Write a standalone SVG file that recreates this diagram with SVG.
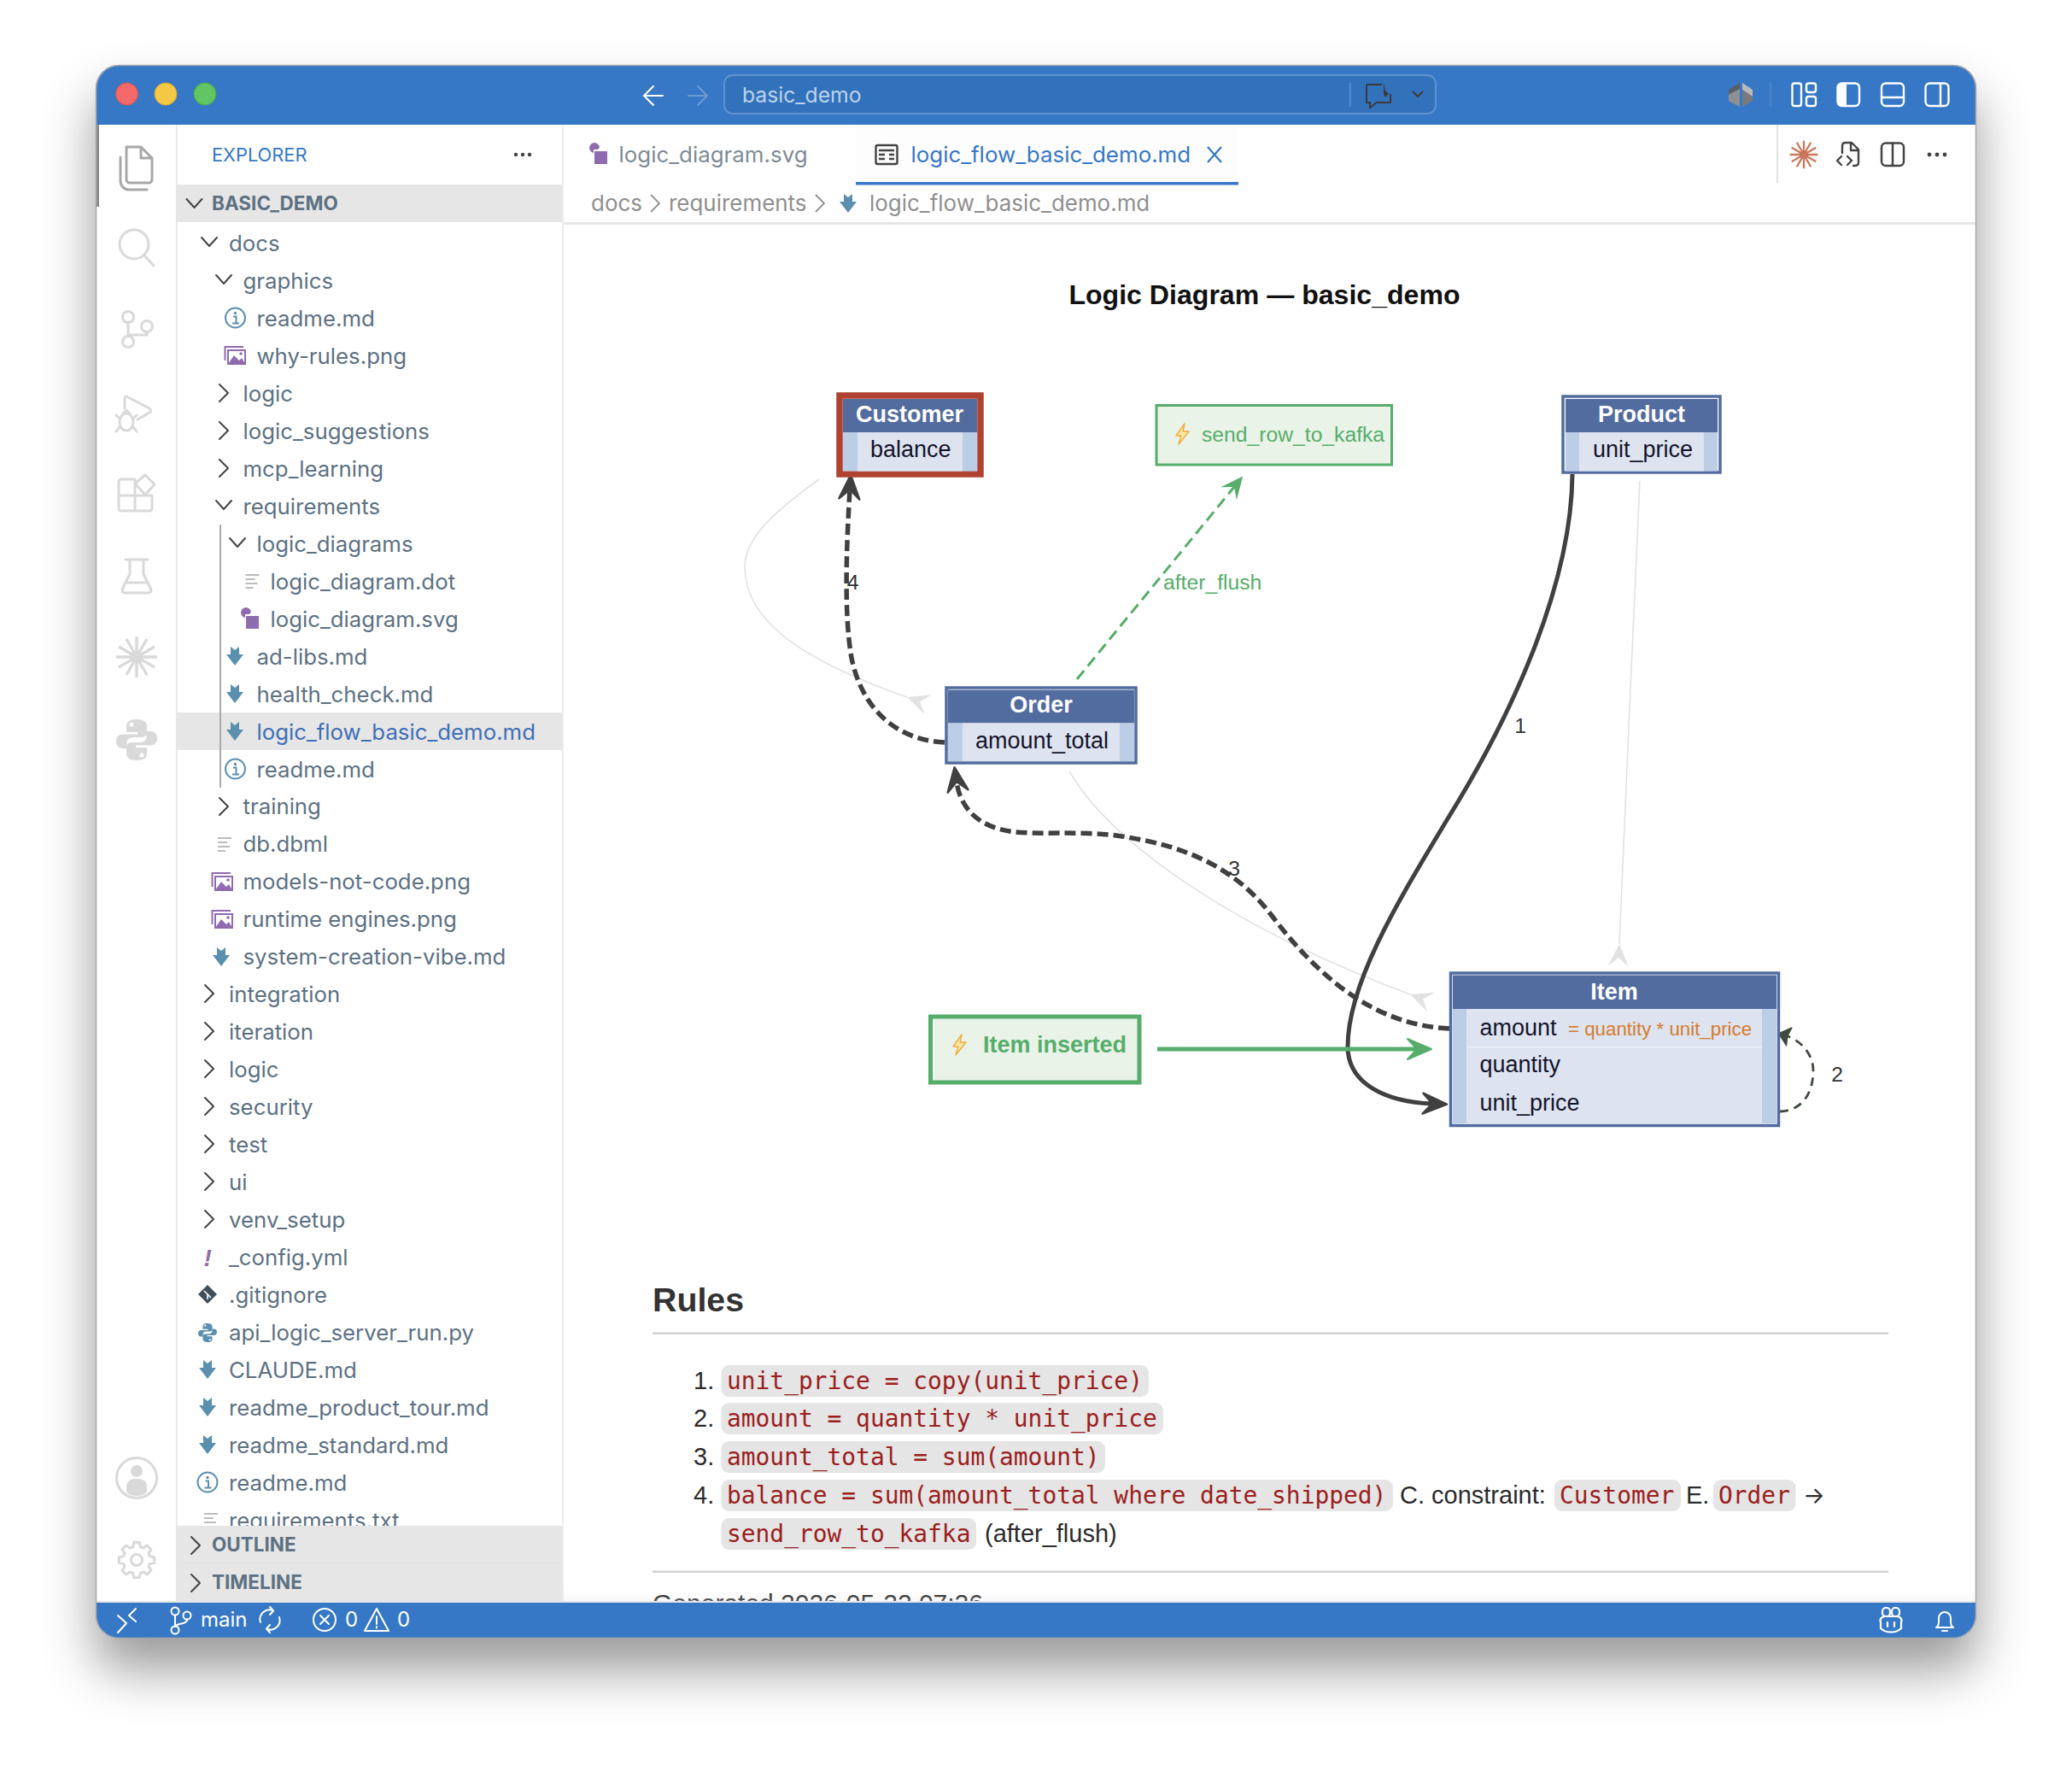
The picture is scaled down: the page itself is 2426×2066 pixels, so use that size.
<svg xmlns="http://www.w3.org/2000/svg" width="2426" height="2066" viewBox="0 0 2426 2066">
<style>
text{font-family:"Liberation Sans",Arial,sans-serif}
.ui{font-family:Inter,"Liberation Sans",sans-serif;font-size:25.8px;fill:#5d7183}
.hd{font-family:Inter,"Liberation Sans",sans-serif;font-size:22.5px;font-weight:700;fill:#5d7183}
.tab{font-family:Inter,"Liberation Sans",sans-serif;font-size:25.9px;fill:#7f8b96}
.crumb{font-family:Inter,"Liberation Sans",sans-serif;font-size:25.95px;fill:#8f8f8f}
.st{font-family:Inter,"Liberation Sans",sans-serif;font-size:24px;fill:#fff}
.ns{fill:none;stroke:#444;stroke-width:2;stroke-linecap:round;stroke-linejoin:round}
.ai{fill:none;stroke:#d9d9d9;stroke-width:3;stroke-linejoin:round;stroke-linecap:round}
.wi{fill:none;stroke:#fff;stroke-width:2.4;stroke-linejoin:round;stroke-linecap:round}
.hdr{fill:#536c9f}.body{fill:#dde3ef}.side{fill:#bccde6}
.box{fill:#fff;stroke:#536c9f;stroke-width:3.5}
.ttl{font-size:27px;font-weight:700;fill:#fff;text-anchor:middle}
.fld{font-size:27px;fill:#14142b}
.lbl{font-size:24.7px;fill:#333}
.grn{fill:#57ad6b}
.li{font-size:29px;fill:#2b2b2b}
.cd{font-family:"DejaVu Sans Mono","Liberation Mono",monospace;font-size:27.9px;fill:#9a2020}
.cb{fill:#e5e5e5}
.hr{fill:#d2d2d2}
.gl{fill:none;stroke:#e2e2e2;stroke-width:1.6}
.dk{fill:none;stroke:#404040}
</style>
<defs>
<filter id="shadow" x="-10%" y="-10%" width="120%" height="120%"><feDropShadow dx="0" dy="36" stdDeviation="30" flood-color="#000" flood-opacity="0.4"/></filter>
<clipPath id="win"><rect x="112" y="76" width="2202" height="1842" rx="27"/></clipPath>
<linearGradient id="fade" x1="0" y1="0" x2="0" y2="1"><stop offset="0" stop-color="#e8e8e8" stop-opacity="0"/><stop offset="1" stop-color="#e8e8e8" stop-opacity="0.3"/></linearGradient>
<marker id="crow" markerUnits="userSpaceOnUse" orient="auto" markerWidth="40" markerHeight="40" refX="0" refY="0" overflow="visible"><path d="M0,0L26,-12L16,0L26,12Z" fill="#e2e2e2"/></marker>
<marker id="veeD" markerUnits="userSpaceOnUse" orient="auto" markerWidth="40" markerHeight="40" refX="0" refY="0" overflow="visible"><path d="M-11,-12L17,0L-11,12L0,0Z" fill="#404040" stroke="#404040" stroke-width="2.5" stroke-linejoin="round"/></marker>
<marker id="veeG" markerUnits="userSpaceOnUse" orient="auto" markerWidth="40" markerHeight="40" refX="0" refY="0" overflow="visible"><path d="M-11,-12L17,0L-11,12L0,0Z" fill="#57ad6b" stroke="#57ad6b" stroke-width="2" stroke-linejoin="round"/></marker>
<marker id="veeT" markerUnits="userSpaceOnUse" orient="auto" markerWidth="40" markerHeight="40" refX="0" refY="0" overflow="visible"><path d="M-10,-12L16,0L-10,12L0,0Z" fill="#57ad6b"/></marker>
<marker id="veeS" markerUnits="userSpaceOnUse" orient="auto" markerWidth="30" markerHeight="30" refX="0" refY="0" overflow="visible"><path d="M-5,-11L8,0L-5,11L-3,0Z" fill="#3f4a3f" stroke="#3f4a3f" stroke-width="1.2" stroke-linejoin="round"/></marker>
<path id="md" d="M-5,-11L0,-7L5,-11V-2H10L0,11L-10,-2H-5Z" fill="#5b8fae"/>
<g id="info"><circle r="11.5" fill="none" stroke="#5b8fae" stroke-width="2"/><circle cy="-5.5" r="1.7" fill="#5b8fae"/><path d="M-2.5,-1.5H1V6M-3.5,6.5H4.5" fill="none" stroke="#5b8fae" stroke-width="2"/></g>
<g id="img"><path d="M-11.5,6V-10H10" fill="none" stroke="#8f6bb0" stroke-width="2"/><rect x="-8" y="-6" width="20" height="16" fill="none" stroke="#8f6bb0" stroke-width="2"/><path d="M-8,10L-1,0L5,6L8,3L12,10Z" fill="#8f6bb0"/><circle cx="7" cy="-2" r="1.8" fill="#8f6bb0"/></g>
<g id="svgi"><rect x="-3" y="-3" width="15" height="15" fill="#8f6bb0"/><path d="M-4,-1A6,6 0 1 1 3,-7.5L1,-5H-4Z" fill="#8f6bb0"/></g>
<path id="lines" d="M-8,-7H8M-8,-2H3M-8,3H6M-8,8H1" fill="none" stroke="#bcbcbc" stroke-width="2.2"/>
<path id="cd" class="ns" d="M-9,-5L0,5L9,-5"/>
<path id="cr" class="ns" d="M-5,-10L5,0L-5,10"/>
<g id="star"><circle r="7"/><path d="M0,-24V24M12,-21L-12,21M21,-12L-21,12M24,0H-24M21,12L-21,-12M12,21L-12,-21" fill="none" stroke-width="3.4"/></g>
<g id="py"><path id="pyh" d="M0,-24C-9,-24 -12,-21 -12,-15V-9H1V-6.500H-15C-21,-6.500 -24,-3 -24,1C-24,7 -21,10 -16,10H-11.500V3C-11.500,-1 -8,-3 -3,-3H6C10,-3 12,-6 12,-9V-16C12,-21 8,-24 0,-24ZM-6,-20.500A2.500,2.500 0 1 0 -6,-15.500A2.500,2.500 0 1 0 -6,-20.500Z" fill-rule="evenodd"/><use href="#pyh" transform="rotate(180)"/></g>
<path id="bolt" d="M3,-12L-7,2H-1L-4,12L8,-3H1Z" fill="#fdeba8" stroke="#f2a93b" stroke-width="1.4" stroke-linejoin="round"/>
</defs>
<rect width="2426" height="2066" fill="#fff"/>
<rect x="112" y="76" width="2202" height="1842" rx="27" fill="#fff" filter="url(#shadow)"/>
<g clip-path="url(#win)">
<g id="editor">
<rect x="659" y="146" width="1655" height="1730" fill="#fff"/>
<rect x="1002" y="146" width="448" height="68" fill="#fdfdfd"/>
<rect x="1002" y="213" width="448" height="3.5" fill="#3678c6"/>
<rect x="659" y="260" width="1655" height="3" fill="#e6e6e6"/>
<rect x="2080" y="146" width="2" height="68" fill="#e2e2e2"/>
<use href="#svgi" x="699" y="180"/>
<text class="tab" x="724.5" y="190">logic_diagram.svg</text>
<g transform="translate(1038,181)"><rect x="-12.5" y="-11" width="25" height="22" rx="2" fill="none" stroke="#444" stroke-width="2.4"/><path d="M-9,-5H9M-9,0H-2M3,0H9M-9,5H-2M3,5H9" stroke="#444" stroke-width="2.4" fill="none"/></g>
<text class="tab" x="1066.5" y="190" style="fill:#3678c6">logic_flow_basic_demo.md</text>
<path d="M1414,172L1430,190M1430,172L1414,190" stroke="#3678c6" stroke-width="2.2" fill="none"/>
<use href="#star" transform="translate(2112,181) scale(0.68)" stroke="#c9785c" fill="#c9785c"/>
<path class="ns" style="stroke-width:2.4" d="M2157,179V171Q2157,167 2161,167H2168L2176,175V190Q2176,194 2172,194H2170M2167,167V176H2176M2156,183L2151,188L2156,193M2163,183L2168,188L2163,193"/>
<rect x="2203" y="167.5" width="26" height="26.5" rx="5" class="ns" style="stroke-width:2.5"/><path d="M2216,168V194" class="ns" style="stroke-width:2.5"/>
<g fill="#444"><circle cx="2259" cy="181" r="2.4"/><circle cx="2268" cy="181" r="2.4"/><circle cx="2277" cy="181" r="2.4"/></g>
<text class="crumb" x="692" y="246.5">docs</text>
<path d="M762,228L772,238L762,248" fill="none" stroke="#8f8f8f" stroke-width="1.8"/>
<text class="crumb" x="783" y="246.5">requirements</text>
<path d="M955,228L965,238L955,248" fill="none" stroke="#8f8f8f" stroke-width="1.8"/>
<use href="#md" x="993" y="238"/>
<text class="crumb" x="1018" y="246.5">logic_flow_basic_demo.md</text>

<text x="1480.5" y="355.5" text-anchor="middle" style="font-size:32.1px;font-weight:700;fill:#111">Logic Diagram — basic_demo</text>

<g id="connectors">
<path class="gl" d="M959,561C905,600 872,630 872,664C872,735 960,780 1062,816" marker-end="url(#crow)"/>
<path class="gl" d="M1252,903C1300,985 1440,1085 1651,1164" marker-end="url(#crow)"/>
<path class="gl" d="M1920,563C1912,730 1903,950 1896,1105" marker-end="url(#crow)"/>
<path d="M1261,795L1445,570" fill="none" stroke="#57ad6b" stroke-width="3" stroke-dasharray="13 7" marker-end="url(#veeT)"/>
<path class="dk" stroke-width="5.5" stroke-dasharray="13 6" d="M1106,869C1045,866 1008,825 997,770C988,720 991,640 995,573" marker-end="url(#veeD)"/>
<path class="dk" stroke-width="5.5" stroke-dasharray="13 6" d="M1697,1204C1610,1200 1545,1145 1490,1073C1450,1020 1395,990 1307,978C1260,972 1215,978 1182,973C1150,968 1125,950 1120,915" marker-end="url(#veeD)"/>
<path class="dk" stroke-width="5" d="M1841,555C1840,680 1775,830 1694,960C1640,1050 1578,1150 1578,1225C1578,1270 1625,1290 1677,1292" marker-end="url(#veeD)"/>
<path d="M2084,1301C2110,1300 2123,1280 2123,1253C2123,1235 2110,1218 2090,1212" fill="none" stroke="#3f4a3f" stroke-width="2.8" stroke-dasharray="10 7" marker-end="url(#veeS)"/>
<path d="M1355,1228H1659" fill="none" stroke="#57ad6b" stroke-width="5" marker-end="url(#veeG)"/>
<text class="lbl" x="998.5" y="690" text-anchor="middle">4</text>
<text class="lbl" x="1780" y="858" text-anchor="middle">1</text>
<text class="lbl" x="1445" y="1025" text-anchor="middle">3</text>
<text class="lbl" x="2151" y="1266" text-anchor="middle">2</text>
<text class="lbl grn" x="1362" y="690">after_flush</text>
</g>

<g id="node-customer">
<rect x="983" y="463" width="165" height="92" fill="#fff" stroke="#b04232" stroke-width="7.5"/>
<rect class="hdr" x="987" y="467" width="157" height="39"/>
<rect class="side" x="987" y="506" width="157" height="45.5"/>
<rect class="body" x="1004" y="506" width="123" height="45.5"/>
<text class="ttl" x="1065" y="494">Customer</text>
<text class="fld" x="1019" y="535">balance</text>
</g>
<g id="node-send_row_to_kafka">
<rect x="1354" y="474.5" width="275.5" height="69.5" fill="#e9f3e8" stroke="#57ad6b" stroke-width="3"/>
<use href="#bolt" x="1384" y="508"/>
<text class="grn" x="1407" y="517" style="font-size:24.7px">send_row_to_kafka</text>
</g>
<g id="node-product">
<rect class="box" x="1830" y="464" width="184" height="89"/>
<rect class="hdr" x="1833" y="467" width="178" height="39"/>
<rect class="side" x="1833" y="506" width="178" height="45.5"/>
<rect class="body" x="1849" y="506" width="146" height="45.5"/>
<text class="ttl" x="1922" y="494">Product</text>
<text class="fld" x="1865" y="535">unit_price</text>
</g>
<g id="node-order">
<rect class="box" x="1108" y="805" width="222" height="88"/>
<rect class="hdr" x="1110" y="807.5" width="218" height="39"/>
<rect class="side" x="1110" y="846.5" width="218" height="44.5"/>
<rect class="body" x="1127" y="846.5" width="184" height="44.5"/>
<text class="ttl" x="1219" y="834">Order</text>
<text class="fld" x="1142" y="875.5">amount_total</text>
</g>
<g id="node-item">
<rect class="box" x="1698.5" y="1139" width="384" height="178.5"/>
<rect class="hdr" x="1701" y="1141.5" width="379" height="39.5"/>
<rect class="side" x="1701" y="1181" width="379" height="134"/>
<rect class="body" x="1717" y="1181" width="346" height="134"/>
<rect x="1717" y="1225" width="346" height="1.2" fill="#eef1f7"/>
<text class="ttl" x="1890" y="1170">Item</text>
<text class="fld" x="1732.5" y="1211.5">amount</text>
<text x="1836" y="1211.5" style="font-size:22.3px;fill:#d67c2c">= quantity * unit_price</text>
<text class="fld" x="1732.5" y="1254.5">quantity</text>
<text class="fld" x="1732.5" y="1299.5">unit_price</text>
</g>
<g id="node-item-inserted">
<rect x="1089.5" y="1190" width="244.5" height="77" fill="#e9f3e8" stroke="#57ad6b" stroke-width="5"/>
<use href="#bolt" x="1123" y="1223"/>
<text class="grn" x="1151" y="1232" style="font-size:27px;font-weight:700">Item inserted</text>
</g>

<g id="rules">
<text x="764" y="1534.5" style="font-size:39.3px;font-weight:700;fill:#333">Rules</text>
<rect class="hr" x="764" y="1559.5" width="1447" height="2.5"/>
<rect class="cb" x="844.5" y="1598" width="500.5" height="37" rx="9"/>
<rect class="cb" x="844.5" y="1642" width="517.5" height="37" rx="9"/>
<rect class="cb" x="844.5" y="1687" width="449.5" height="37" rx="9"/>
<rect class="cb" x="844.5" y="1732" width="786.5" height="37" rx="9"/>
<rect class="cb" x="1820" y="1732" width="148" height="37" rx="9"/>
<rect class="cb" x="2006" y="1732" width="96.5" height="37" rx="9"/>
<rect class="cb" x="844.5" y="1777" width="298.5" height="37" rx="9"/>
<text class="li" x="812" y="1625.5">1.</text>
<text class="li" x="812" y="1669.5">2.</text>
<text class="li" x="812" y="1714.5">3.</text>
<text class="li" x="812" y="1759.5">4.</text>
<text class="cd" x="851" y="1625.5">unit_price = copy(unit_price)</text>
<text class="cd" x="851" y="1669.5">amount = quantity * unit_price</text>
<text class="cd" x="851" y="1714.5">amount_total = sum(amount)</text>
<text class="cd" x="851" y="1759.5">balance = sum(amount_total where date_shipped)</text>
<text class="li" x="1639" y="1759.5">C. constraint:</text>
<text class="cd" x="1826" y="1759.5">Customer</text>
<text class="li" x="1974" y="1759.5">E.</text>
<text class="cd" x="2012" y="1759.5">Order</text>
<text class="li" x="2111" y="1759.5" style="font-family:Inter,'Liberation Sans',sans-serif;font-size:27px">→</text>
<text class="cd" x="851" y="1804.5">send_row_to_kafka</text>
<text class="li" x="1153" y="1804.5">(after_flush)</text>
<rect class="hr" x="764" y="1838.5" width="1447" height="2.5"/>
<text x="764" y="1887" style="font-size:30px;fill:#222">Generated 2026-05-22 07:26</text>
</g>
<rect x="659" y="1860" width="1655" height="16" fill="url(#fade)"/>
</g>

<g id="sidebar">
<rect x="207" y="146" width="452" height="1730" fill="#fff"/>
<rect x="207" y="216" width="452" height="44" fill="#e6e6e6"/>
<rect x="207" y="834" width="452" height="44" fill="#e6e6e6"/>
<rect x="257" y="614" width="2" height="308" fill="#aaa"/>
<text class="ui" x="248" y="189" style="font-size:21.8px;fill:#3678c6">EXPLORER</text>
<g fill="#444"><circle cx="604" cy="181" r="2.2"/><circle cx="612" cy="181" r="2.2"/><circle cx="620" cy="181" r="2.2"/></g>
<use href="#cd" x="227.5" y="238"/>
<text class="hd" x="248" y="246">BASIC_DEMO</text>
<text class="ui" x="268" y="293.5">docs</text><use href="#cd" x="245" y="283"/>
<text class="ui" x="284.5" y="337.5">graphics</text><use href="#cd" x="262" y="327"/>
<text class="ui" x="300.5" y="381.5">readme.md</text><use href="#info" x="275.5" y="372"/>
<text class="ui" x="300.5" y="425.5">why-rules.png</text><use href="#img" x="275" y="416"/>
<text class="ui" x="284.5" y="469.5">logic</text><use href="#cr" x="262" y="460"/>
<text class="ui" x="284.5" y="513.5">logic_suggestions</text><use href="#cr" x="262" y="504"/>
<text class="ui" x="284.5" y="557.5">mcp_learning</text><use href="#cr" x="262" y="548"/>
<text class="ui" x="284.5" y="601.5">requirements</text><use href="#cd" x="262" y="591"/>
<text class="ui" x="300.5" y="645.5">logic_diagrams</text><use href="#cd" x="278" y="635"/>
<text class="ui" x="316.5" y="689.5">logic_diagram.dot</text><use href="#lines" x="295.5" y="680"/>
<text class="ui" x="316.5" y="733.5">logic_diagram.svg</text><use href="#svgi" x="291" y="724"/>
<text class="ui" x="300.5" y="777.5">ad-libs.md</text><use href="#md" x="275" y="768"/>
<text class="ui" x="300.5" y="821.5">health_check.md</text><use href="#md" x="275" y="812"/>
<text class="ui" x="300.5" y="865.5" style="fill:#3f6fb5">logic_flow_basic_demo.md</text><use href="#md" x="275" y="856"/>
<text class="ui" x="300.5" y="909.5">readme.md</text><use href="#info" x="275.5" y="900"/>
<text class="ui" x="284.5" y="953">training</text><use href="#cr" x="262" y="944"/>
<text class="ui" x="284.5" y="997">db.dbml</text><use href="#lines" x="263" y="988"/>
<text class="ui" x="284.5" y="1041">models-not-code.png</text><use href="#img" x="260" y="1032"/>
<text class="ui" x="284.5" y="1085">runtime engines.png</text><use href="#img" x="260" y="1076"/>
<text class="ui" x="284.5" y="1129">system-creation-vibe.md</text><use href="#md" x="259" y="1120"/>
<text class="ui" x="268" y="1172.5">integration</text><use href="#cr" x="245" y="1163"/>
<text class="ui" x="268" y="1216.5">iteration</text><use href="#cr" x="245" y="1207"/>
<text class="ui" x="268" y="1260.5">logic</text><use href="#cr" x="245" y="1251"/>
<text class="ui" x="268" y="1304.5">security</text><use href="#cr" x="245" y="1295"/>
<text class="ui" x="268" y="1348.5">test</text><use href="#cr" x="245" y="1339"/>
<text class="ui" x="268" y="1392.5">ui</text><use href="#cr" x="245" y="1383"/>
<text class="ui" x="268" y="1436.5">venv_setup</text><use href="#cr" x="245" y="1427"/>
<text x="238.5" y="1482" style="font-size:28px;font-weight:700;font-style:italic;fill:#8f6bb0">!</text>
<text class="ui" x="268" y="1480.5">_config.yml</text>
<path d="M243,1504L254,1515L243,1526L232,1515Z" fill="#3f4f5a"/><path d="M239,1511L247,1519M243,1515V1521" stroke="#fff" stroke-width="1.6"/>
<text class="ui" x="268" y="1524.5">.gitignore</text>
<use href="#py" transform="translate(243,1560) scale(0.46)" fill="#5b8fae"/>
<text class="ui" x="268" y="1568.5">api_logic_server_run.py</text>
<use href="#md" x="243" y="1603"/><text class="ui" x="268" y="1612.5">CLAUDE.md</text>
<use href="#md" x="243" y="1647"/><text class="ui" x="268" y="1656.5">readme_product_tour.md</text>
<use href="#md" x="243" y="1691"/><text class="ui" x="268" y="1700.5">readme_standard.md</text>
<use href="#info" x="243" y="1735"/><text class="ui" x="268" y="1744.5">readme.md</text>
<use href="#lines" x="247" y="1779"/><text class="ui" x="268" y="1788.5">requirements.txt</text>
<rect x="207" y="1786" width="452" height="90" fill="#e6e6e6"/>
<rect x="207" y="1829.5" width="452" height="1" fill="#e0e0e0"/>
<use href="#cr" x="229" y="1809"/><text class="hd" x="248" y="1816">OUTLINE</text>
<use href="#cr" x="229" y="1853"/><text class="hd" x="248" y="1860">TIMELINE</text>
<rect x="658" y="146" width="2" height="1730" fill="#ececec"/>
</g>

<g id="activitybar">
<rect x="112" y="146" width="95" height="1730" fill="#fff"/>
<rect x="206" y="146" width="1.5" height="1730" fill="#e6e6e6"/>
<rect x="112" y="146" width="4" height="96" fill="#8a8a8a"/>
<g class="ai" style="stroke:#a8a8a8">
<path d="M148,172H165L178,185V210A4,4 0 0 1 174,214H152A4,4 0 0 1 148,210Z M165,172V185H178"/>
<path d="M141,184V212A10,10 0 0 0 151,222H172"/>
</g>
<g class="ai">
<circle cx="157" cy="286" r="17"/><path d="M169,299L180,311"/>
<circle cx="150" cy="371" r="6.5"/><circle cx="150" cy="400" r="6.5"/><circle cx="172" cy="382" r="6.5"/><path d="M150,378V393M172,389V392H150"/>
<path d="M146,478V467Q146,462 150,465L175,478Q178,481 175,483L161,491"/><ellipse cx="148" cy="494" rx="8" ry="10"/><path d="M144,484L148,480L152,484M136,486L140,490M160,486L156,490M136,505L140,500M160,505L156,500"/>
<path d="M142,561H158V598H142A3,3 0 0 1 139,595V564A3,3 0 0 1 142,561ZM139,580H178V595A3,3 0 0 1 175,598H158M158,566L170,556L181,567L170,579Z"/>
<path d="M147,655H173M152,655V672L144,688Q141,694 148,694H172Q179,694 176,688L168,672V655M148,682H172"/>
<circle cx="160" cy="1730" r="23.5"/>
<path transform="translate(160,1826)" d="M-4.4,-15.4L-3.3,-20.7L3.3,-20.7L4.4,-15.4L7.8,-14L12.3,-17L17,-12.3L14,-7.8L15.4,-4.4L20.7,-3.3L20.7,3.3L15.4,4.4L14,7.8L17,12.3L12.3,17L7.8,14L4.4,15.4L3.3,20.7L-3.3,20.7L-4.4,15.4L-7.8,14L-12.3,17L-17,12.3L-14,7.8L-15.4,4.4L-20.7,3.3L-20.7,-3.3L-15.4,-4.4L-14,-7.8L-17,-12.3L-12.3,-17L-7.8,-14Z"/><circle cx="160" cy="1826" r="6.5"/>
</g>
<use href="#star" stroke="#d9d9d9" fill="#d9d9d9" transform="translate(160,769)"/>
<use href="#py" transform="translate(160,866)" fill="#d9d9d9"/>
<circle cx="160" cy="1722" r="7" fill="#d9d9d9"/><path d="M148,1745V1738A10,8 0 0 1 158,1731H162A10,8 0 0 1 172,1738V1745A12,6 0 0 1 148,1745Z" fill="#d9d9d9"/>
</g>

<g id="titlebar">
<rect x="112" y="76" width="2202" height="70" fill="#3678c6"/>
<circle cx="148.5" cy="110" r="13" fill="#f46a6a" stroke="#dd4f4f"/>
<circle cx="194" cy="110" r="13" fill="#f4c844" stroke="#dba92b"/>
<circle cx="240" cy="110" r="13" fill="#62c463" stroke="#4aa94c"/>
<path class="wi" d="M776,112H755M765,101L754,112L765,123" style="stroke-width:2"/>
<path class="wi" d="M806,112H827M817,101L828,112L817,123" style="stroke:#6c9bd3;stroke-width:2"/>
<rect x="848" y="88" width="833" height="45" rx="10" fill="#3272bb" stroke="#5e92cf" stroke-width="2"/>
<text x="869" y="119.5" style="font-family:Inter,'Liberation Sans',sans-serif;font-size:24.7px;fill:#bcd2ec">basic_demo</text>
<rect x="1580" y="97" width="1.5" height="28" fill="#5e92cf"/>
<path d="M1600,99H1618M1628,110V120H1612L1604,126V120H1600V99" fill="none" stroke="#3a3a3a" stroke-width="2"/><path d="M1620,96L1622,106L1626,110L1622,114L1620,110Z" fill="#3a3a3a"/>
<path d="M1654,107L1660,113L1666,107" fill="none" stroke="#3a3a3a" stroke-width="2"/>
<path d="M2037,97L2024,105V111L2037,104Z" fill="#5d5f64"/><path d="M2024,111V118L2037,125V104Z" fill="#8f9094"/>
<path d="M2040,97L2052,105V113L2040,105Z" fill="#b9b9b9"/><path d="M2040,105L2052,113V118L2040,125Z" fill="#77797e"/>
<rect x="2072.5" y="97" width="1.2" height="28" fill="#5e8dc4"/>
<g class="wi"><rect x="2098.5" y="97.5" width="10.5" height="26.5" rx="2.5"/><rect x="2115" y="97.5" width="11" height="10.5" rx="2.5"/><rect x="2115" y="113" width="11" height="11" rx="2.5"/>
<rect x="2151.5" y="97.5" width="25.5" height="26.5" rx="5"/>
<rect x="2203" y="97.5" width="26" height="26.5" rx="5"/><path d="M2203,114H2229"/>
<rect x="2254.5" y="97.5" width="27" height="26.5" rx="5"/><path d="M2272,98V124"/></g>
<path d="M2162,97.5H2156.5A5,5 0 0 0 2151.5,102.5V119A5,5 0 0 0 2156.5,124H2162Z" fill="#fff"/>
</g>

<g id="statusbar">
<rect x="112" y="1874" width="2202" height="2" fill="#e6e6e6"/>
<rect x="112" y="1876" width="2202" height="42" fill="#3678c6"/>
<path class="wi" d="M138,1891L148,1900L138,1911M159,1883L151,1891L159,1898" style="stroke-width:2"/>
<g class="wi" style="stroke-width:2"><circle cx="205" cy="1886" r="4.5"/><circle cx="205" cy="1908" r="4.5"/><circle cx="219" cy="1891" r="4.5"/><path d="M205,1891V1903M219,1896C219,1902 208,1899 205,1904"/></g>
<text class="st" x="235" y="1904">main</text>
<path class="wi" style="stroke-width:2" d="M305,1899A11,11 0 0 1 320,1885.500M316,1881L320,1885.500L316,1890M327,1893A11,11 0 0 1 312,1906.500M316,1902L312,1906.500L316,1911"/>
<g class="wi" style="stroke-width:2"><circle cx="380" cy="1896" r="13"/><path d="M375,1891L385,1901M385,1891L375,1901"/><path d="M441,1883L455,1909H427Z"/><path d="M441,1892V1901M441,1904V1905.500"/></g>
<text class="st" x="404" y="1904">0</text>
<text class="st" x="465" y="1904">0</text>
<g class="wi" style="stroke-width:2.2"><path d="M2202,1906V1899A6,5 0 0 1 2208,1892H2220A6,5 0 0 1 2226,1899V1906C2220,1912 2208,1912 2202,1906Z"/><rect x="2204" y="1882" width="9" height="10" rx="4"/><rect x="2215" y="1882" width="9" height="10" rx="4"/><path d="M2210,1899V1904M2218,1899V1904"/></g>
<path class="wi" style="stroke-width:2" d="M2267,1905C2271,1903 2270,1898 2270,1894A7,7 0 0 1 2284,1894C2284,1898 2283,1903 2287,1905ZM2274,1909H2280"/>
</g>
</g>
<rect x="112.500" y="76.500" width="2201" height="1841" rx="27" fill="none" stroke="#a9a9a9" stroke-width="1.5"/>
</svg>
